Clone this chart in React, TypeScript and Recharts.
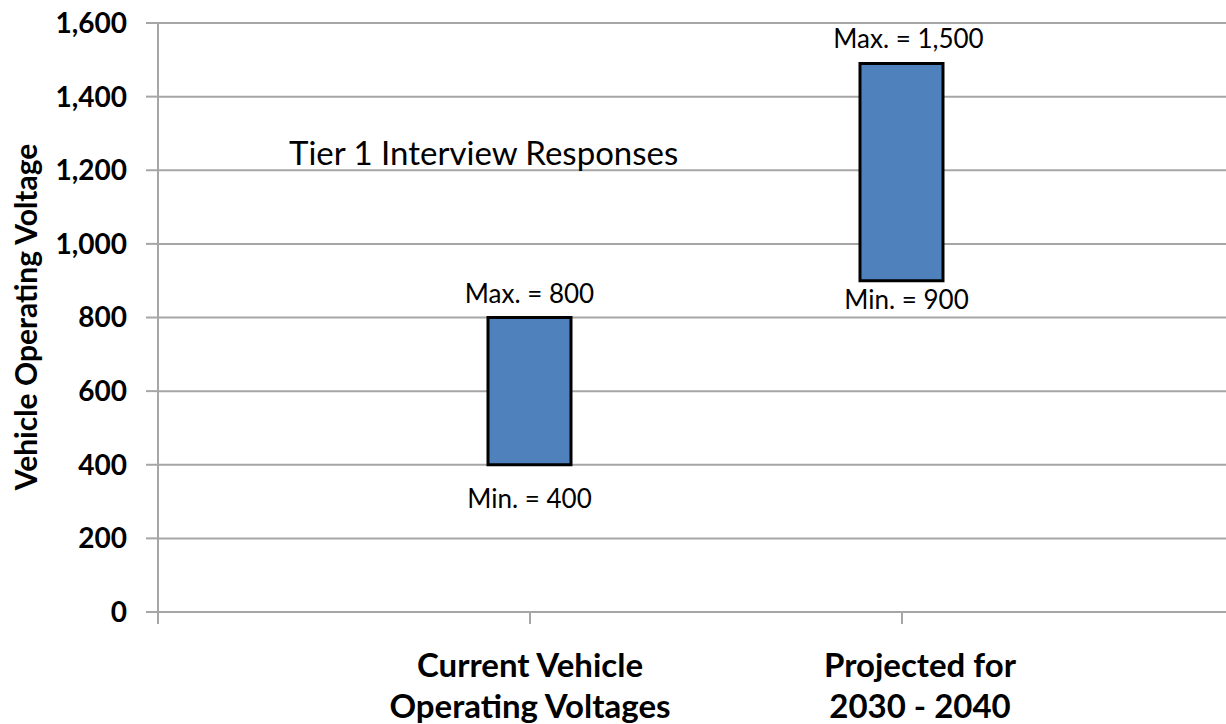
import React from "react";
import { ComposedChart, Bar, XAxis, YAxis, CartesianGrid, LabelList } from "recharts";

const categoryLines = [
  ["Current Vehicle", "Operating Voltages"],
  ["Projected for", "2030 - 2040"],
];
const categoryPositions = [1, 2];
const minValues = [400, 900];
const maxValues = [800, 1490];
const maxLabels = ["Max. = 800", "Max. = 1,500"];
const minLabels = ["Min. = 400", "Min. = 900"];
const yTicks = [0, 200, 400, 600, 800, 1000, 1200, 1400, 1600];
const xTicks = [0, 1, 2];
const annotation = "Tier 1 Interview Responses";
const yTitle = "Vehicle Operating Voltage";

const data = categoryPositions.map((p, i) => ({
  pos: p,
  range: [minValues[i], maxValues[i]],
}));

const FONT = "Lato, 'Open Sans', sans-serif";
const GRID = "#a6a6a6";

const XTick = (props: any) => {
  const { x, y, payload } = props;
  const idx = categoryPositions.indexOf(payload.value);
  if (idx < 0) return <g />;
  const dx = idx === 1 ? 18 : 0;
  const lines = categoryLines[idx];
  return (
    <g>
      {lines.map((l, i) => (
        <text
          key={i}
          x={x + dx}
          y={y + 51 + i * 41}
          textAnchor="middle"
          fontFamily={FONT}
          fontWeight="bold"
          fontSize={33}
          fill="#000"
        >
          {l}
        </text>
      ))}
    </g>
  );
};

const RangeLabels = (props: any) => {
  const { x, y, width, height, index } = props;
  const cx = x + width / 2;
  const top = Math.min(y, y + height);
  const bottom = Math.max(y, y + height);
  return (
    <g>
      <text x={cx + (index === 1 ? 7 : 0)} y={top - 15} textAnchor="middle" fontFamily={FONT} fontSize={26} fill="#000">
        {maxLabels[index]}
      </text>
      <text x={cx + (index === 1 ? 5 : 0)} y={bottom + (index === 1 ? 28 : 43)} textAnchor="middle" fontFamily={FONT} fontSize={26} fill="#000">
        {minLabels[index]}
      </text>
    </g>
  );
};

const YTitle = () => {
  const cx = 25;
  const cy = 317;
  return (
    <text
      x={cx}
      y={cy}
      transform={`rotate(-90, ${cx}, ${cy})`}
      textAnchor="middle"
      dominantBaseline="central"
      fontFamily={FONT}
      fontWeight="bold"
      fontSize={30}
      fill="#000"
    >
      {yTitle}
    </text>
  );
};

export default function App() {
  return (
    <div style={{ position: "absolute", left: 0, top: 0, width: 1226, height: 724, background: "#fff" }}>
      <ComposedChart width={1226} height={724} data={data} margin={{ top: 23, right: 0, left: 0, bottom: 0 }}>
        <CartesianGrid vertical={false} stroke={GRID} strokeWidth={2} />
        <XAxis
          dataKey="pos"
          type="number"
          domain={[0, 2.871]}
          allowDataOverflow
          ticks={xTicks}
          interval={0}
          height={112}
          tickSize={12}
          stroke={GRID}
          strokeWidth={2}
          tick={<XTick />}
        />
        <YAxis
          type="number"
          domain={[0, 1600]}
          ticks={yTicks}
          interval={0}
          width={158}
          tickSize={12}
          tickMargin={19}
          stroke={GRID}
          strokeWidth={2}
          tickFormatter={(v: number) => v.toLocaleString("en-US")}
          tick={{ fontFamily: FONT, fontWeight: "bold", fontSize: 28, fill: "#000" }}
          label={<YTitle />}
        />
        <Bar
          dataKey="range"
          barSize={83}
          fill="#4F81BD"
          stroke="#000"
          strokeWidth={3}
          isAnimationActive={false}
        >
          <LabelList dataKey="range" content={<RangeLabels />} />
        </Bar>
      </ComposedChart>
      <div
        style={{
          position: "absolute",
          left: 289,
          top: 130,
          fontFamily: FONT,
          fontSize: 33,
          color: "#000",
          whiteSpace: "nowrap",
          lineHeight: "44px",
        }}
      >
        {annotation}
      </div>
    </div>
  );
}
